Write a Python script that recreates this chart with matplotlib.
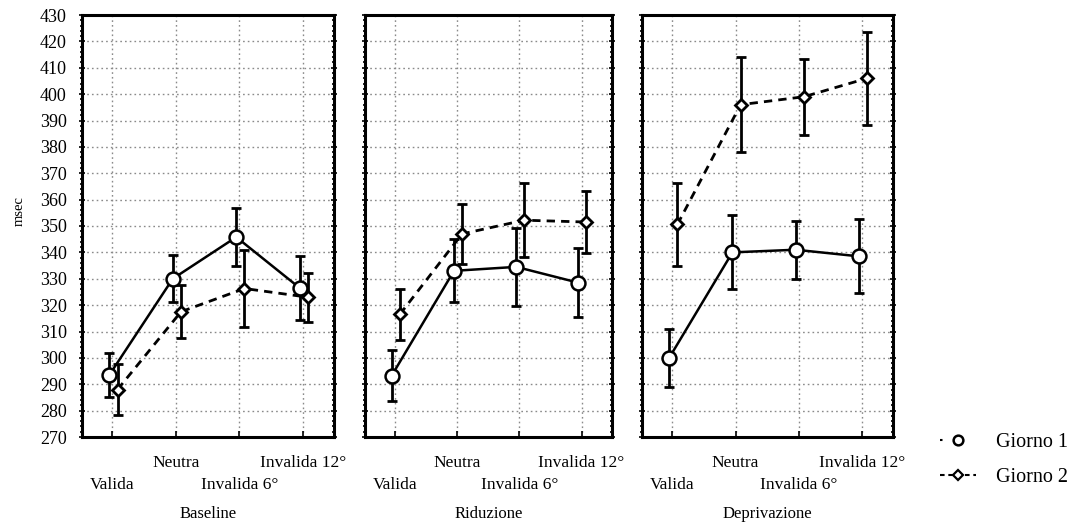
import matplotlib
matplotlib.use("Agg")
import matplotlib.pyplot as plt
from matplotlib.lines import Line2D
from matplotlib.ticker import MultipleLocator, FixedLocator, FixedFormatter
import numpy as np

plt.rcParams['font.family'] = ['Liberation Serif', 'DejaVu Serif']

# Conditions (x categories) and experimental phases (panels)
conditions = ["Valida", "Neutra", "Invalida 6°", "Invalida 12°"]
phases = ["Baseline", "Riduzione", "Deprivazione"]
series_names = ["Giorno 1", "Giorno 2"]

# Mean reaction times (msec) per phase, Giorno 1
g1_baseline = [293.5, 330.0, 345.8, 326.5]
g1_riduzione = [293.3, 333.0, 334.5, 328.5]
g1_deprivazione = [300.0, 340.0, 341.0, 338.5]

# Mean reaction times (msec) per phase, Giorno 2
g2_baseline = [288.0, 317.5, 326.3, 323.0]
g2_riduzione = [316.5, 347.0, 352.2, 351.5]
g2_deprivazione = [350.6, 396.0, 399.0, 406.0]

# Error bar half-widths (msec)
g1_err_baseline = [8.5, 9.0, 11.0, 12.0]
g1_err_riduzione = [9.5, 12.0, 14.7, 13.0]
g1_err_deprivazione = [11.0, 14.0, 11.0, 14.0]
g2_err_baseline = [9.5, 10.0, 14.5, 9.3]
g2_err_riduzione = [9.7, 11.5, 14.0, 11.6]
g2_err_deprivazione = [15.7, 18.0, 14.4, 17.7]

g1_means = [g1_baseline, g1_riduzione, g1_deprivazione]
g2_means = [g2_baseline, g2_riduzione, g2_deprivazione]
g1_errs = [g1_err_baseline, g1_err_riduzione, g1_err_deprivazione]
g2_errs = [g2_err_baseline, g2_err_riduzione, g2_err_deprivazione]

W, H = 1074, 527
fig = plt.figure(figsize=(W / 100, H / 100), dpi=100)
fig.patch.set_facecolor("white")

# panel extents in pixels (left, right)
panel_px = [(82, 334), (365, 612), (642, 893)]
top_px, bot_px = 15, 437

x = np.arange(1, len(conditions) + 1)
# staggered labels: odd categories on the lower row, even ones on the upper row
upper_pos = list(x[1::2])
upper_lab = conditions[1::2]
lower_pos = list(x[0::2])
lower_lab = conditions[0::2]

axes = []
for k, (l, r) in enumerate(panel_px):
    ax = fig.add_axes([l / W, 1 - bot_px / H, (r - l) / W, (bot_px - top_px) / H])
    axes.append(ax)

    ax.set_xlim(0.52, 4.49)
    ax.set_ylim(270, 430)
    ax.set_yticks(np.arange(270, 431, 10))
    ax.yaxis.set_minor_locator(MultipleLocator(2))

    ax.xaxis.set_major_locator(FixedLocator(upper_pos))
    ax.xaxis.set_major_formatter(FixedFormatter(upper_lab))
    ax.xaxis.set_minor_locator(FixedLocator(lower_pos))
    ax.xaxis.set_minor_formatter(FixedFormatter(lower_lab))

    ax.grid(True, which="major", axis="y", linestyle=(0, (1.2, 2.2)),
            color="#8a8a8a", linewidth=1.0)
    ax.grid(True, which="both", axis="x", linestyle=(0, (1.2, 2.2)),
            color="#8a8a8a", linewidth=1.0)
    ax.set_axisbelow(True)

    for sp in ax.spines.values():
        sp.set_linewidth(2.2)
        sp.set_color("black")

    ax.tick_params(axis="x", which="major", direction="in", length=4,
                   width=1.2, pad=13, top=False, labelsize=12.5)
    ax.tick_params(axis="x", which="minor", direction="in", length=4,
                   width=1.2, pad=29, top=False, labelsize=12.5)
    ax.tick_params(axis="y", which="major", direction="inout", length=4,
                   width=1.2, left=True, right=True, pad=9, labelsize=13)
    ax.tick_params(axis="y", which="minor", direction="inout", length=3,
                   width=1.2, left=True, right=True)
    if k > 0:
        ax.tick_params(axis="y", labelleft=False)

    dx1, dx2 = -0.05, 0.08
    # Giorno 2: dashed line with diamonds
    ax.errorbar(x + dx2, g2_means[k], yerr=g2_errs[k], fmt="none",
                ecolor="black", elinewidth=2.0, capsize=3.5, capthick=2.0,
                zorder=3)
    ax.plot(x + dx2, g2_means[k], color="black", linestyle=(0, (3.0, 2.2)),
            linewidth=2.0, marker="D", markersize=6, markerfacecolor="white",
            markeredgecolor="black", markeredgewidth=2.0, zorder=4)
    # Giorno 1: solid line with open circles
    ax.errorbar(x + dx1, g1_means[k], yerr=g1_errs[k], fmt="none",
                ecolor="black", elinewidth=2.0, capsize=3.5, capthick=2.0,
                zorder=3)
    ax.plot(x + dx1, g1_means[k], color="black", linestyle="-",
            linewidth=1.8, marker="o", markersize=10, markerfacecolor="white",
            markeredgecolor="black", markeredgewidth=1.8, zorder=5)

    # phase title under the panel
    fig.text((l + r) / 2 / W, 1 - 514 / H, phases[k], fontsize=12,
             ha="center", va="center")

fig.text(19 / W, 1 - 211 / H, "msec", rotation=90, fontsize=10.5,
         ha="center", va="center")

handles = [
    Line2D([], [], color="black", linestyle=(0, (1.2, 8)), linewidth=1.5,
           marker="o", markersize=7, markerfacecolor="white",
           markeredgewidth=1.8),
    Line2D([], [], color="black", linestyle=(0, (2.2, 1.8)), linewidth=1.5,
           marker="D", markersize=5, markerfacecolor="white",
           markeredgewidth=1.6),
]
fig.legend(handles, series_names, loc="center left",
           bbox_to_anchor=(932 / W, 1 - 460 / H), frameon=False,
           fontsize=14.5, handlelength=1.8, handletextpad=1.0,
           labelspacing=0.8, borderaxespad=0)

fig.savefig("out.png", dpi=100, facecolor="white")
